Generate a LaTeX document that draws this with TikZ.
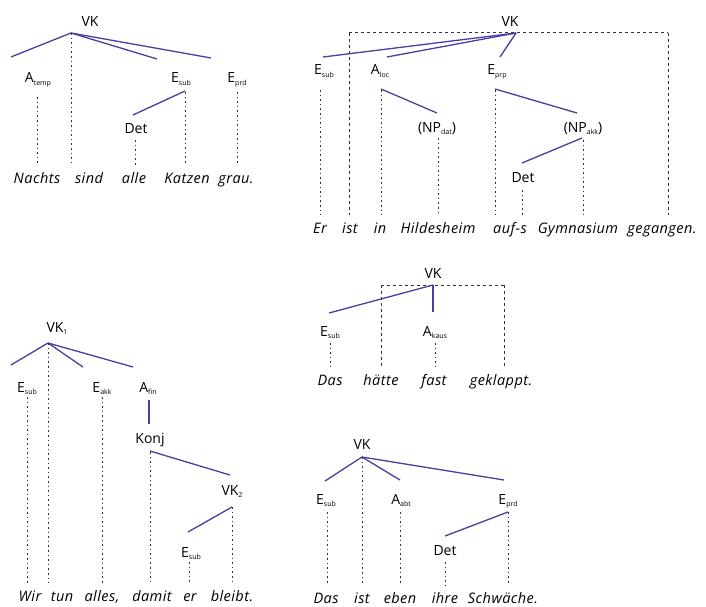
\documentclass[tikz,border=0pt]{standalone}
\usepackage{fontspec}
\setmainfont{Open Sans}
\newfontfamily\wordfont[LetterSpace=3]{Open Sans}
\definecolor{branch}{RGB}{72,64,158}
\definecolor{dotc}{RGB}{50,50,60}
\newcommand{\sbs}[1]{\raisebox{-2.5pt}{\fontsize{7}{8}\selectfont #1}}
\tikzset{
  lab/.style={font=\fontsize{14}{16}\selectfont, inner sep=0pt, anchor=base},
  wrd/.style={font=\wordfont\fontsize{14.5}{16}\selectfont\itshape, inner sep=0pt, anchor=base, text height=10.5pt, text depth=3pt},
  br/.style={draw=branch, line width=1.3pt},
  dl/.style={draw=dotc, line width=1pt, dash pattern=on 1.6pt off 3pt, shorten >=7pt},
  dd/.style={draw=dotc, line width=1pt, dash pattern=on 3pt off 3pt}
}
\begin{document}
\begin{tikzpicture}[x=1pt,y=-1pt]
\useasboundingbox[fill=white] (0,0) rectangle (706,607);

% ---------------- Tree 1
\node[lab] (t1vk) at (90,27) {VK};
\node[lab] (t1a) at (38,83) {A\sbs{temp}};
\node[lab] (t1es) at (181,83) {E\sbs{sub}};
\node[lab] (t1ep) at (237,83) {E\sbs{prd}};
\node[lab] (t1det) at (136,133) {Det};
\node[wrd] (t1w1) at (37,183) {Nachts};
\node[wrd] (t1w2) at (89,183) {sind};
\node[wrd] (t1w3) at (134,183) {alle};
\node[wrd] (t1w4) at (187,183) {Katzen};
\node[wrd] (t1w5) at (236,183) {grau.};
\coordinate (t1x) at (71,33);
\coordinate (t1b1) at (11,57);
\coordinate (t1b2) at (157,59);
\coordinate (t1b3) at (211,58);
\coordinate (t1d1) at (37,97);
\coordinate (t1d3) at (185,92);
\coordinate (t1d4) at (135,140);
\coordinate (t1d5) at (237,92);
\coordinate (t1s1) at (133,115);
\coordinate (t1s2) at (185,91);
\draw[br] (t1x) -- (t1b1);
\draw[br] (t1x) -- (t1b2);
\draw[br] (t1x) -- (t1b3);
\draw[br] (t1s2) -- (t1s1);
\draw[dl] (t1d1) -- (t1d1 |- t1w1.north);
\draw[dl] (t1x) -- (t1x |- t1w2.north);
\draw[dl] (t1d4) -- (t1d4 |- t1w3.north);
\draw[dl] (t1d3) -- (t1d3 |- t1w4.north);
\draw[dl] (t1d5) -- (t1d5 |- t1w5.north);

% ---------------- Tree 2
\node[lab] (t2vk) at (510,27) {VK};
\node[lab] (t2es) at (324,75) {E\sbs{sub}};
\node[lab] (t2al) at (380,75) {A\sbs{loc}};
\node[lab] (t2ep) at (497,75) {E\sbs{prp}};
\node[lab] (t2nd) at (437,132) {(NP\sbs{dat})};
\node[lab] (t2na) at (583,132) {(NP\sbs{akk})};
\node[lab] (t2det) at (523,182) {Det};
\node[wrd] (t2w1) at (320,233) {Er};
\node[wrd] (t2w2) at (350,233) {ist};
\node[wrd] (t2w3) at (380,233) {in};
\node[wrd] (t2w4) at (438,233) {Hildesheim};
\node[wrd] (t2w5) at (510,233) {auf-s};
\node[wrd] (t2w6) at (578,233) {Gymnasium};
\node[wrd] (t2w7) at (662,233) {gegangen.};
\coordinate (t2x) at (516,33);
\coordinate (t2cl) at (349,33);
\coordinate (t2cr) at (668,33);
\coordinate (t2b1) at (323,57);
\coordinate (t2b2) at (387,57);
\coordinate (t2b3) at (500,57);
\coordinate (t2d1) at (320,90);
\coordinate (t2d3) at (381,90);
\coordinate (t2d4) at (438,138);
\coordinate (t2d5) at (495,90);
\coordinate (t2d6) at (522,190);
\coordinate (t2d7) at (583,140);
\coordinate (t2s1) at (381,89);
\coordinate (t2s2) at (437,113);
\coordinate (t2s3) at (495,89);
\coordinate (t2s4) at (577,113);
\coordinate (t2s5) at (582,138);
\coordinate (t2s6) at (522,163);
\draw[dd] (t2cl) -- (t2cr);
\draw[dd, shorten >=7pt] (t2cl) -- (t2cl |- t2w2.north);
\draw[dd, shorten >=7pt] (t2cr) -- (t2cr |- t2w7.north);
\draw[br] (t2x) -- (t2b1);
\draw[br] (t2x) -- (t2b2);
\draw[br] (t2x) -- (t2b3);
\draw[br] (t2s1) -- (t2s2);
\draw[br] (t2s3) -- (t2s4);
\draw[br] (t2s5) -- (t2s6);
\draw[dl] (t2d1) -- (t2d1 |- t2w1.north);
\draw[dl] (t2d3) -- (t2d3 |- t2w3.north);
\draw[dl] (t2d4) -- (t2d4 |- t2w4.north);
\draw[dl] (t2d5) -- (t2d5 |- t2w5.north);
\draw[dl] (t2d6) -- (t2d6 |- t2w5.north);
\draw[dl] (t2d7) -- (t2d7 |- t2w6.north);

% ---------------- Tree 3
\node[lab] (t3vk) at (57,332) {VK\sbs{1}};
\node[lab] (t3es) at (27,392) {E\sbs{sub}};
\node[lab] (t3ea) at (102,392) {E\sbs{akk}};
\node[lab] (t3af) at (148,392) {A\sbs{fin}};
\node[lab] (t3k) at (150,443) {Konj};
\node[lab] (t3vk2) at (232,495) {VK\sbs{2}};
\node[lab] (t3es2) at (191,557) {E\sbs{sub}};
\node[wrd] (t3w1) at (30,601) {Wir};
\node[wrd] (t3w2) at (62,601) {tun};
\node[wrd] (t3w3) at (102,601) {alles,};
\node[wrd] (t3w4) at (152,601) {damit};
\node[wrd] (t3w5) at (190,601) {er};
\node[wrd] (t3w6) at (232,601) {bleibt.};
\coordinate (t3x) at (48,343);
\coordinate (t3b1) at (11,365);
\coordinate (t3b2) at (83,367);
\coordinate (t3b3) at (133,367);
\coordinate (t3d1) at (27,397);
\coordinate (t3d3) at (102,397);
\coordinate (t3d4) at (150,452);
\coordinate (t3x2) at (232,507);
\coordinate (t3d5) at (189,562);
\coordinate (t3s1) at (149,400);
\coordinate (t3s2) at (149,424);
\coordinate (t3s3) at (150,451);
\coordinate (t3s4) at (230,475);
\coordinate (t3s5) at (188,532);
\draw[br] (t3x) -- (t3b1);
\draw[br] (t3x) -- (t3b2);
\draw[br] (t3x) -- (t3b3);
\draw[br] (t3s1) -- (t3s2);
\draw[br] (t3s3) -- (t3s4);
\draw[br] (t3x2) -- (t3s5);
\draw[dl] (t3d1) -- (t3d1 |- t3w1.north);
\draw[dl] (t3x) -- (t3x |- t3w2.north);
\draw[dl] (t3d3) -- (t3d3 |- t3w3.north);
\draw[dl] (t3d4) -- (t3d4 |- t3w4.north);
\draw[dl] (t3d5) -- (t3d5 |- t3w5.north);
\draw[dl] (t3x2) -- (t3x2 |- t3w6.north);

% ---------------- Tree 4
\node[lab] (t4vk) at (433,278) {VK};
\node[lab] (t4es) at (330,336) {E\sbs{sub}};
\node[lab] (t4ak) at (435,336) {A\sbs{kaus}};
\node[wrd] (t4w1) at (330,385) {Das};
\node[wrd] (t4w2) at (381,385) {hätte};
\node[wrd] (t4w3) at (434,385) {fast};
\node[wrd] (t4w4) at (501,385) {geklappt.};
\coordinate (t4x) at (433,285);
\coordinate (t4cl) at (381,285);
\coordinate (t4cr) at (504,285);
\coordinate (t4b1) at (329,313);
\coordinate (t4b2) at (433,312);
\coordinate (t4d1) at (330,343);
\coordinate (t4d3) at (435,343);
\draw[dd] (t4cl) -- (t4cr);
\draw[dd, shorten >=6pt] (t4cl) -- (t4cl |- t4w2.north);
\draw[dd, shorten >=6pt] (t4cr) -- (t4cr |- t4w4.north);
\draw[br] (t4x) -- (t4b1);
\draw[br] (t4x) -- (t4b2);
\draw[dl] (t4d1) -- (t4d1 |- t4w1.north);
\draw[dl] (t4d3) -- (t4d3 |- t4w3.north);

% ---------------- Tree 5
\node[lab] (t5vk) at (362,449) {VK};
\node[lab] (t5es) at (326,504) {E\sbs{sub}};
\node[lab] (t5aa) at (401,504) {A\sbs{abt}};
\node[lab] (t5ep) at (508,504) {E\sbs{prd}};
\node[lab] (t5det) at (445,555) {Det};
\node[wrd] (t5w1) at (326,603) {Das};
\node[wrd] (t5w2) at (362,603) {ist};
\node[wrd] (t5w3) at (400,603) {eben};
\node[wrd] (t5w4) at (445,603) {ihre};
\node[wrd] (t5w5) at (503,603) {Schwäche.};
\coordinate (t5x) at (362,457);
\coordinate (t5b1) at (325,481);
\coordinate (t5b2) at (400,480);
\coordinate (t5b3) at (504,480);
\coordinate (t5d1) at (327,512);
\coordinate (t5d3) at (400,512);
\coordinate (t5d5) at (508,512);
\coordinate (t5d4) at (445,562);
\coordinate (t5s2) at (445,536);
\draw[br] (t5x) -- (t5b1);
\draw[br] (t5x) -- (t5b2);
\draw[br] (t5x) -- (t5b3);
\draw[br] (t5d5) -- (t5s2);
\draw[dl] (t5d1) -- (t5d1 |- t5w1.north);
\draw[dl] (t5x) -- (t5x |- t5w2.north);
\draw[dl] (t5d3) -- (t5d3 |- t5w3.north);
\draw[dl] (t5d4) -- (t5d4 |- t5w4.north);
\draw[dl] (t5d5) -- (t5d5 |- t5w5.north);
\end{tikzpicture}
\end{document}
